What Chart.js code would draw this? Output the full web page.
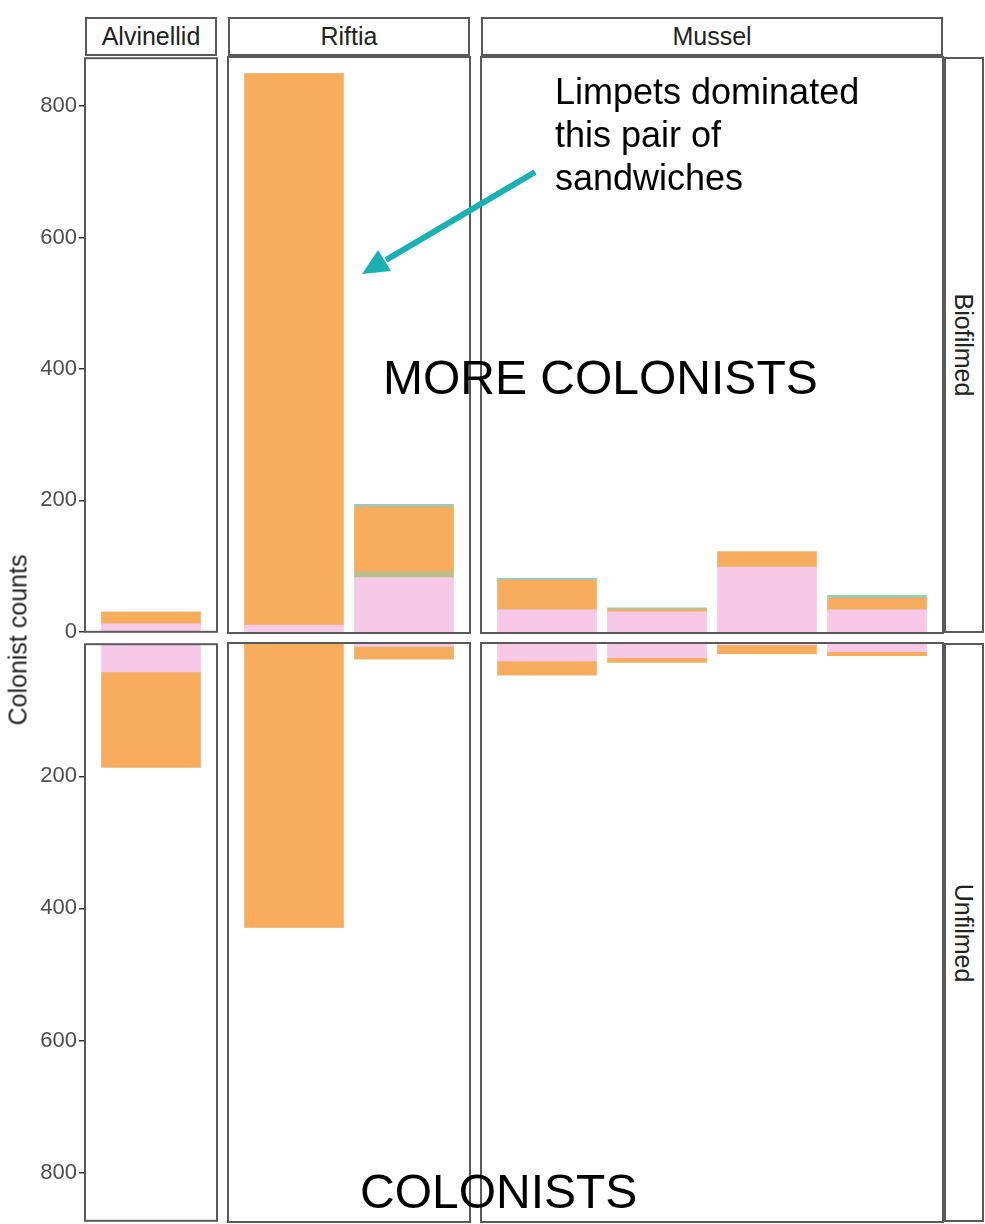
<!DOCTYPE html>
<html><head><meta charset="utf-8">
<script src="https://cdn.jsdelivr.net/npm/chart.js@4"></script>
<style>
html,body{margin:0;padding:0;background:#fff}
body{width:985px;height:1224px;position:relative;overflow:hidden;font-family:"Liberation Sans",Arial,Helvetica,sans-serif}
canvas{position:absolute}
.strip{position:absolute;box-sizing:border-box;border:2px solid #5a5a5a;background:#fff;display:flex;align-items:center;justify-content:center;font-size:25px;color:#222}
.vtext{position:absolute;white-space:nowrap;transform:translate(-50%,-50%) rotate(90deg);font-size:25px;color:#222}
.ytitle{position:absolute;white-space:nowrap;transform:translate(-50%,-50%) rotate(-90deg);font-size:25px;color:#222}
.note{position:absolute;white-space:nowrap;color:#000}
</style>
</head><body>
<script>
// ---------------- data ----------------
const samples = ['A1','R1','R2','M1','M2','M3','M4'];
const habitats = ['Alvinellid','Riftia','Mussel'];
const sampleHabitat = ['Alvinellid','Riftia','Riftia','Mussel','Mussel','Mussel','Mussel'];
const treatments = ['Biofilmed','Unfilmed'];
const groups = ['Polychaetes','Gastropods','Limpets','Other'];
const yTickValues = [0,200,400,600,800];
const yTickValuesUnfilmed = [200,400,600,800];
const yMax = 873;

// Biofilmed (upper row)
const bioPolychaetes = [12, 12, 84, 35, 32, 100, 35];
const bioGastropods  = [0, 0, 9, 0, 0, 0, 0];
const bioLimpets     = [18, 836, 98, 45, 4, 23, 18];
const bioOther       = [0, 0, 4, 3, 2, 0, 4];
// Unfilmed (lower row, drawn downward)
const unPolychaetes  = [42, 0, 5, 27, 22, 3, 13];
const unGastropods   = [0, 0, 0, 0, 0, 0, 0];
const unLimpets      = [144, 429, 19, 21, 7, 13, 6];
const unOther        = [0, 0, 0, 0, 0, 0, 0];

const groupColors = ['#f8c9e6','#bcc08c','#f8ad5e','#9ccab6'];

// ---------------- layout (styles) ----------------
const FONT = '"Liberation Sans", Arial, Helvetica, sans-serif';
const panelLeft = [85, 228, 481];
const unitPx = 110;
const rowTop = [57, 643];
const rowBottom = [633, 1222];
const PAD = 14;

const rowSeries = [
  [bioPolychaetes, bioGastropods, bioLimpets, bioOther],
  [unPolychaetes, unGastropods, unLimpets, unOther]
];
const rowTicks = [yTickValues, yTickValuesUnfilmed];

const borderPlugin = {
  id: 'panelBorder',
  afterDraw(chart) {
    const {ctx, chartArea: a} = chart;
    ctx.save();
    ctx.strokeStyle = '#5a5a5a';
    ctx.lineWidth = 2;
    ctx.strokeRect(a.left, a.top, a.right - a.left, a.bottom - a.top);
    ctx.restore();
  }
};

function addDiv(cls, text, style) {
  const d = document.createElement('div');
  d.className = cls;
  d.textContent = text;
  Object.assign(d.style, style);
  document.body.appendChild(d);
  return d;
}

for (let r = 0; r < 2; r++) {
  habitats.forEach((hab, c) => {
    const idx = samples.map((s, i) => i).filter(i => sampleHabitat[i] === hab);
    const n = idx.length;
    const pw = (n + 0.2) * unitPx;
    const ph = rowBottom[r] - rowTop[r];
    const isLeft = c === 0;
    const cv = document.createElement('canvas');
    const cl = isLeft ? 0 : panelLeft[c] - PAD;
    const cw = isLeft ? panelLeft[c] + pw + PAD : pw + 2 * PAD;
    const ch = ph + 2 * PAD;
    cv.width = cw; cv.height = ch;
    cv.style.left = cl + 'px'; cv.style.top = (rowTop[r] - PAD) + 'px';
    cv.style.width = cw + 'px'; cv.style.height = ch + 'px';
    document.body.appendChild(cv);

    const datasets = groups.map((g, gi) => ({
      label: g,
      data: idx.map((i, k) => ({x: k + 1, y: rowSeries[r][gi][i]})),
      backgroundColor: groupColors[gi],
      borderWidth: 0,
      barThickness: 0.9 * unitPx,
      stack: 's'
    }));

    const yScale = {
      type: 'linear', min: 0, max: yMax, stacked: true, reverse: r === 1,
      display: isLeft,
      afterBuildTicks: s => { s.ticks = rowTicks[r].map(v => ({value: v})); },
      ticks: {font: {size: 22, family: FONT}, color: '#4d4d4d', padding: 2},
      grid: {display: true, drawOnChartArea: false, drawTicks: true, tickLength: 6, color: '#333', lineWidth: 1.5},
      border: {display: false}
    };
    if (isLeft) yScale.afterFit = s => { s.width = panelLeft[0]; };

    new Chart(cv, {
      type: 'bar',
      data: {datasets},
      options: {
        responsive: false,
        animation: false,
        events: [],
        layout: {padding: {left: isLeft ? 0 : PAD, right: PAD, top: PAD, bottom: PAD}},
        plugins: {legend: {display: false}, tooltip: {enabled: false}},
        scales: {
          x: {type: 'linear', min: 0.4, max: n + 0.6, offset: false, stacked: true, display: false},
          y: yScale
        }
      },
      plugins: [borderPlugin]
    });

    if (r === 0) {
      addDiv('strip', hab, {left: panelLeft[c] + 'px', top: '17px', width: pw + 'px', height: '39px'});
    }
  });
}

// right-side strips
treatments.forEach((t, r) => {
  addDiv('strip', '', {left: '944px', top: rowTop[r] + 'px', width: '40px', height: (rowBottom[r] - rowTop[r]) + 'px'});
  addDiv('vtext', t, {left: '963px', top: ((rowTop[r] + rowBottom[r]) / 2) + 'px'});
});

// axis title
addDiv('ytitle', 'Colonist counts', {left: '18px', top: '640px'});
</script>

<div class="note" style="left:555px;top:70px;font-size:36px;line-height:43px">Limpets dominated<br>this pair of<br>sandwiches</div>
<div class="note" style="left:383px;top:350px;font-size:48px;line-height:56px">MORE COLONISTS</div>
<div class="note" style="left:360px;top:1164px;font-size:48px;line-height:56px">COLONISTS</div>
<svg style="position:absolute;left:0;top:0" width="985" height="1224">
  <line x1="535" y1="172" x2="386" y2="260" stroke="#1bb1b4" stroke-width="6"/>
  <polygon points="362,274 391,271 378,250" fill="#1bb1b4"/>
</svg>
</body></html>
